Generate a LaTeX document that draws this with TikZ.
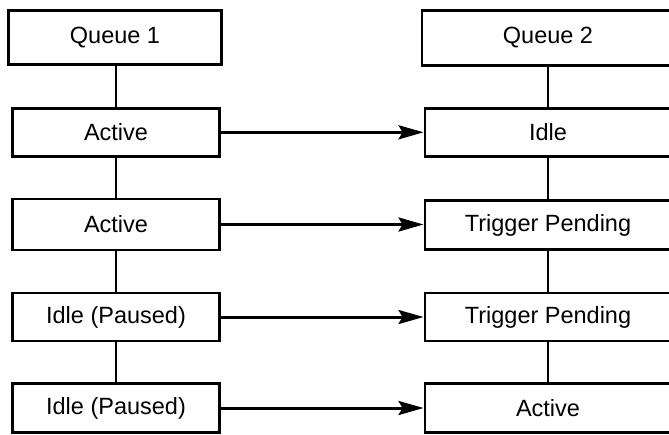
\documentclass[tikz,border=0pt]{standalone}
\usepackage{fontspec}
\setmainfont{Liberation Sans}
\usetikzlibrary{arrows.meta}
\begin{document}
\begin{tikzpicture}[x=1pt,y=-1pt,
  box/.style={draw=black, line width=2.9pt, rectangle, inner sep=0pt,
    font=\fontsize{23.5}{28}\selectfont, text=black},
  lbox/.style={box, minimum width=207pt, minimum height=48pt},
  rbox/.style={box, minimum width=246pt, minimum height=48pt},
  link/.style={line width=2.9pt},
  flow/.style={line width=3pt, -{Stealth[length=25pt,width=14pt,inset=4pt]}}]
\useasboundingbox (0,0) rectangle (669,434);
\clip (0,0) rectangle (669,434);
% left column
\node[box, minimum width=212.6pt, minimum height=54pt] (q1) at (115,37.5) {Queue 1};
\node[lbox] (l1) at (116,132.3) {Active};
\node[lbox, minimum height=51pt] (l2) at (116,224.5) {Active};
\node[lbox] (l3) at (116,317) {Idle (Paused)};
\node[lbox, minimum height=49pt] (l4) at (116,408) {Idle (Paused)};
% right column
\node[box, minimum width=252pt, minimum height=54.5pt] (q2) at (548,37.8) {Queue 2};
\node[rbox] (r1) at (548,132.3) {Idle};
\node[rbox, minimum height=48.5pt] (r2) at (548,225) {Trigger Pending};
\node[rbox] (r3) at (548,317) {Trigger Pending};
\node[rbox, minimum height=49pt] (r4) at (548,408) {Active};
% vertical links
\draw[link] (q1.south -| l1.north) -- (l1.north);
\draw[link] (l1) -- (l2);
\draw[link] (l2) -- (l3);
\draw[link] (l3) -- (l4);
\draw[link] (q2) -- (r1);
\draw[link] (r1) -- (r2);
\draw[link] (r2) -- (r3);
\draw[link] (r3) -- (r4);
% arrows
\draw[flow] (l1.east) -- (r1.west);
\draw[flow] (l2.east) -- (l2.east -| r2.west);
\draw[flow] (l3.east) -- (r3.west);
\draw[flow] (l4.east) -- (r4.west);
\end{tikzpicture}
\end{document}
